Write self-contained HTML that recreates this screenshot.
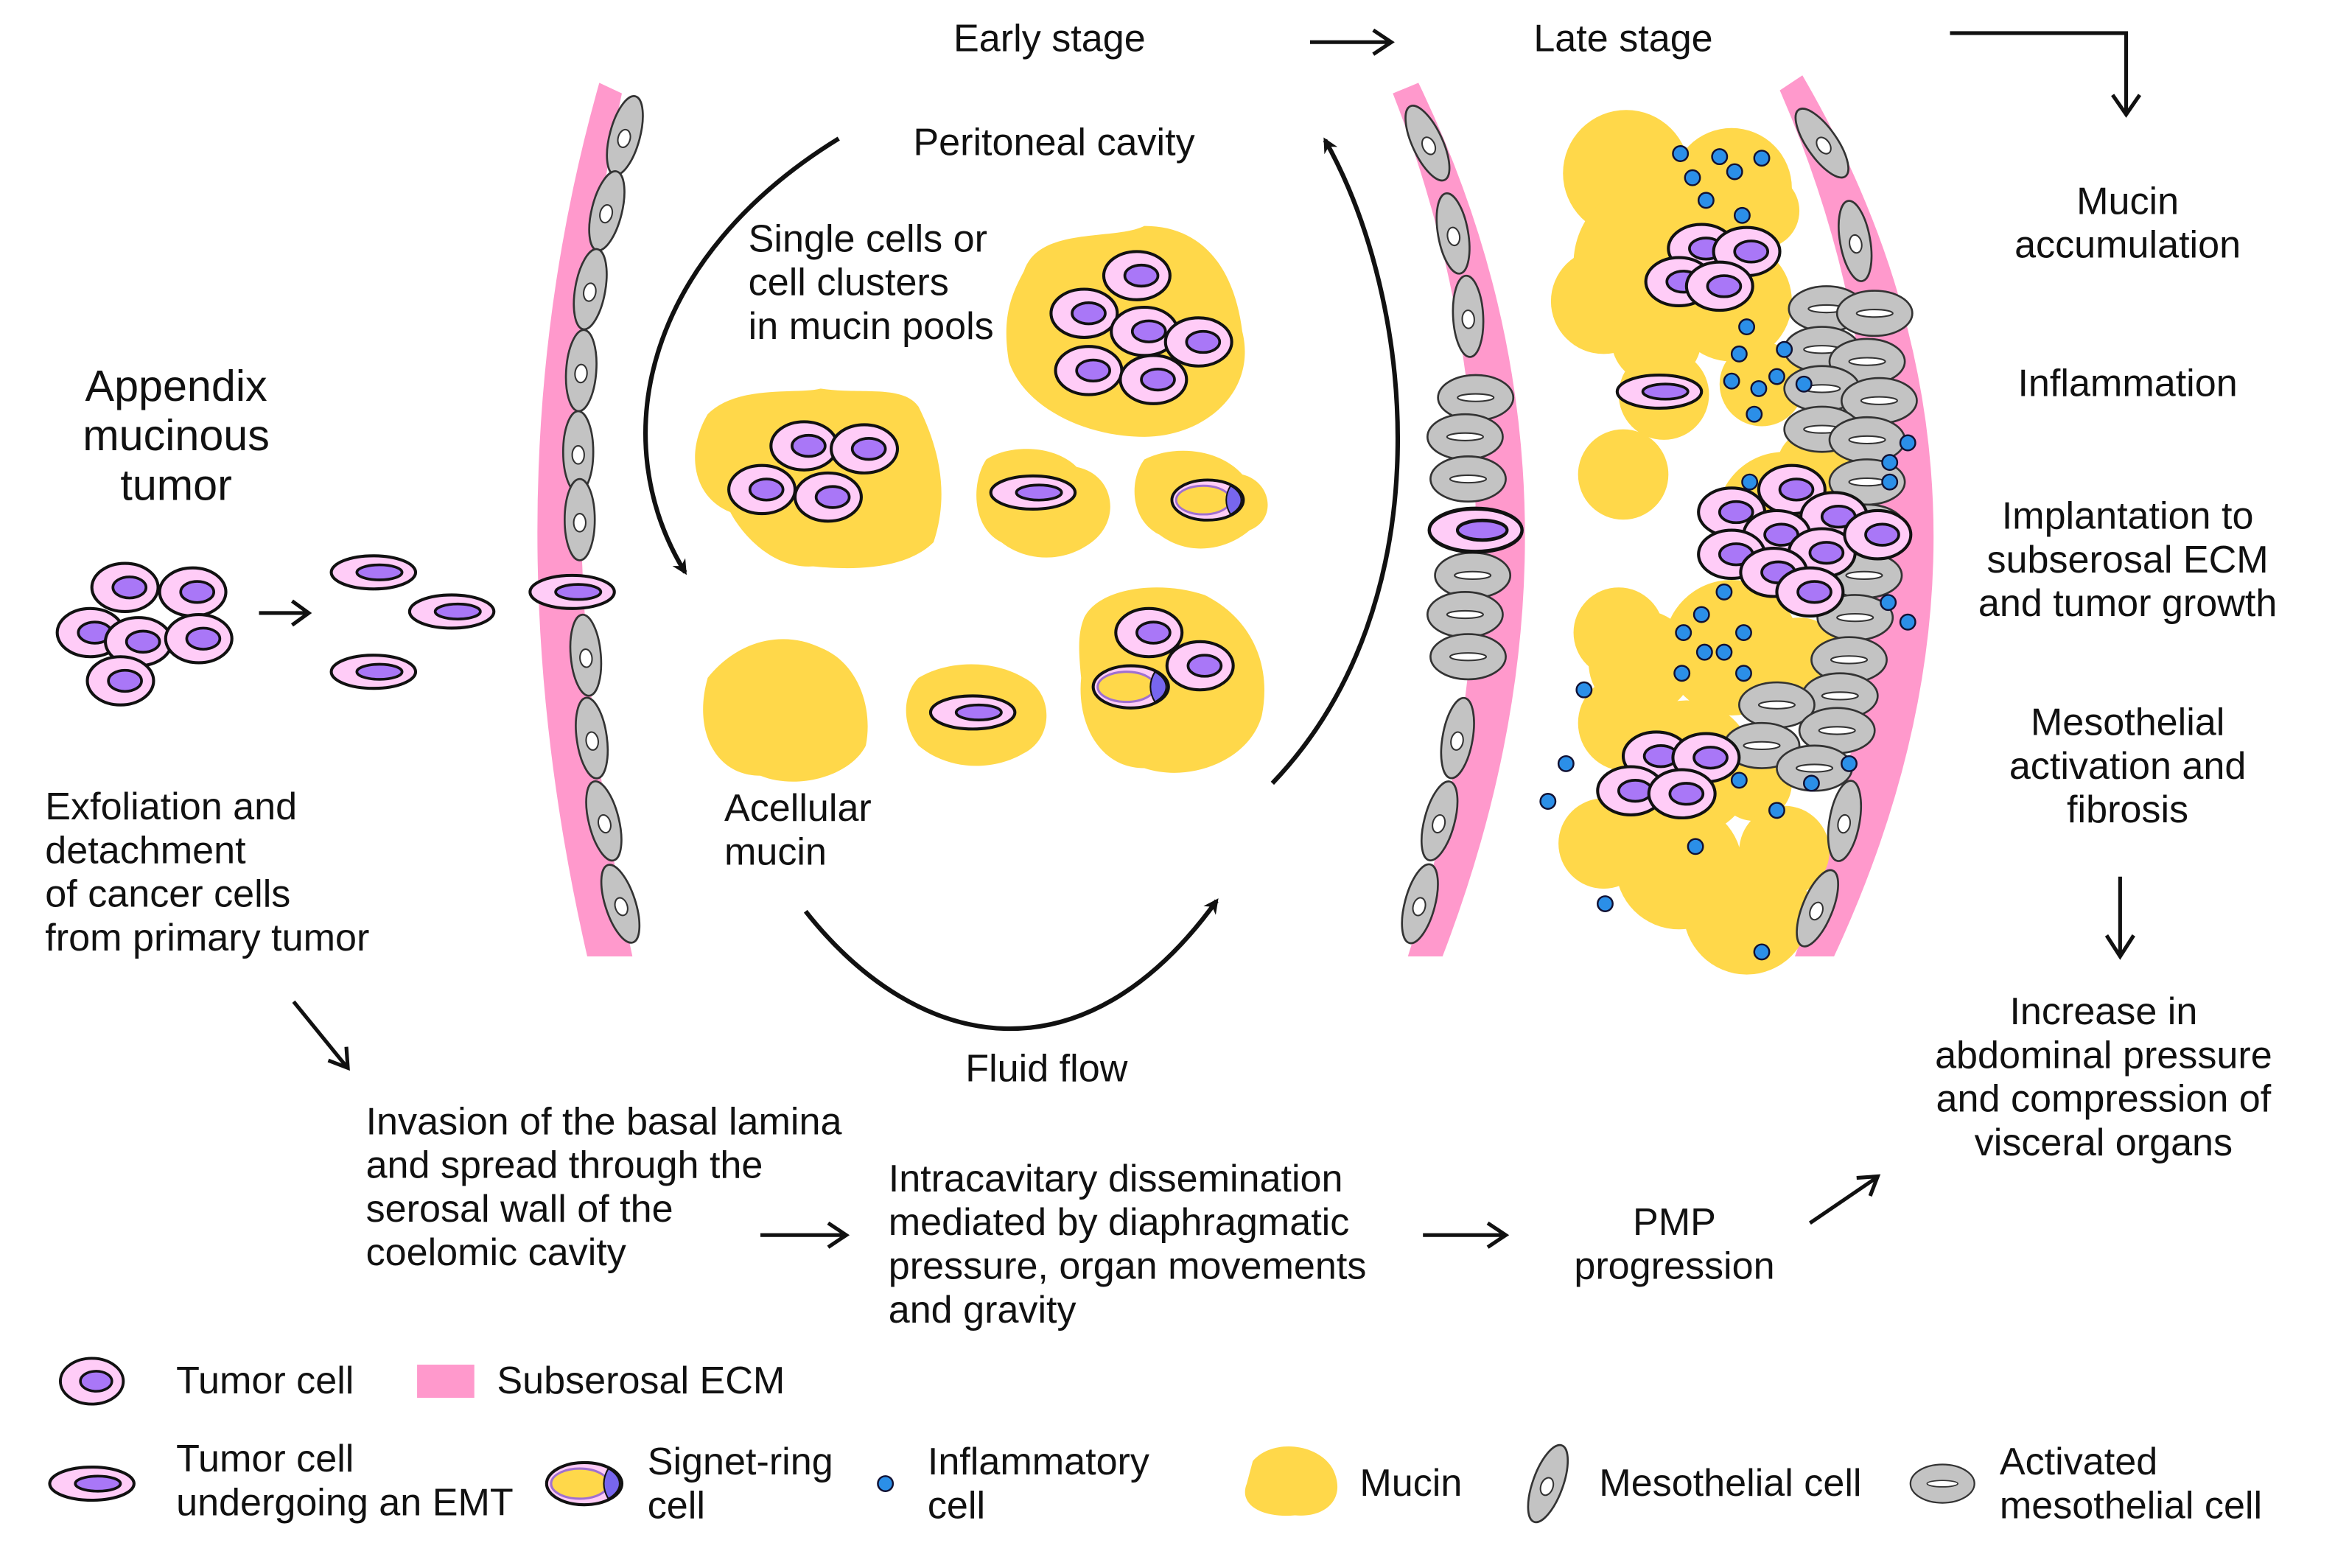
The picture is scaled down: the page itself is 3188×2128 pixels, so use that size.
<!DOCTYPE html>
<html><head><meta charset="utf-8"><style>
html,body{margin:0;padding:0;background:#fff}
svg{display:block}
text{font-family:"Liberation Sans",sans-serif;font-size:25.5px;fill:#111}
</style></head><body>
<svg width="3188" height="2128" viewBox="0 0 1560 1041" preserveAspectRatio="none" xmlns="http://www.w3.org/2000/svg">
<defs>
<g id="tc"><ellipse rx="22" ry="16" fill="#ffccf7" stroke="#111" stroke-width="2"/><ellipse cx="3" rx="11" ry="7" fill="#a977f7" stroke="#111" stroke-width="1.8"/></g>
<g id="emt"><ellipse rx="28" ry="11" fill="#ffccf7" stroke="#111" stroke-width="2"/><ellipse cx="4" rx="15" ry="5" fill="#a977f7" stroke="#111" stroke-width="1.8"/></g>
<g id="sig"><ellipse rx="25" ry="14" fill="#ffccf7" stroke="#111" stroke-width="2"/><ellipse cx="-3" rx="19" ry="10" fill="#ffd84a" stroke="#a070d0" stroke-width="1.5"/><path d="M16,-10 A25,14 0 0 1 16,10 Q10,0 16,-10Z" fill="#7766ee" stroke="#111" stroke-width="1"/></g>
<g id="ms"><ellipse rx="10" ry="27" fill="#c3c3c3" stroke="#333" stroke-width="1.3"/><ellipse rx="4" ry="6" cy="2" fill="#fff" stroke="#333" stroke-width="1"/></g>
<g id="am"><ellipse rx="25" ry="15" fill="#c3c3c3" stroke="#333" stroke-width="1.3"/><ellipse rx="12" ry="2.5" fill="#fff" stroke="#333" stroke-width="1"/></g>
<marker id="ah" markerWidth="10" markerHeight="10" refX="8" refY="5" orient="auto" markerUnits="userSpaceOnUse" viewBox="0 0 10 10"><path d="M0,0 L10,5 L0,10 L3,5Z" fill="#111"/></marker>
</defs>

<text x="697" y="34" text-anchor="middle">Early stage</text>
<text x="1078" y="34" text-anchor="middle">Late stage</text>
<path d="M870,28 H922 M912,20 L924,28 L912,36" fill="none" stroke="#111" stroke-width="2.5"/>
<path d="M1295,22 H1412 V75 M1403,63 L1412,76 L1421,63" fill="none" stroke="#111" stroke-width="2.5"/>
<text x="700" y="103" text-anchor="middle">Peritoneal cavity</text>

<path d="M398,55 Q320,330 390,635 L420,635 Q355,330 413,62 Z" fill="#ff99cc"/>
<path d="M942,55 Q1075,330 958,635 L935,635 Q1030,330 925,62 Z" fill="#ff99cc"/>
<path d="M1197,50 Q1360,330 1218,635 L1192,635 Q1300,330 1182,60 Z" fill="#ff99cc"/>

<g>
<use href="#ms" transform="translate(415,90) rotate(15)"/>
<use href="#ms" transform="translate(403,140) rotate(14)"/>
<use href="#ms" transform="translate(392,192) rotate(10)"/>
<use href="#ms" transform="translate(386,246) rotate(4)"/>
<use href="#ms" transform="translate(384,300)"/>
<use href="#ms" transform="translate(385,345)"/>
<use href="#ms" transform="translate(389,435) rotate(-5)"/>
<use href="#ms" transform="translate(393,490) rotate(-8)"/>
<use href="#ms" transform="translate(401,545) rotate(-14)"/>
<use href="#ms" transform="translate(412,600) rotate(-18)"/>
</g>
<use href="#emt" x="380" y="393"/>

<use href="#ms" transform="translate(948,95) rotate(-25)"/>
<use href="#ms" transform="translate(965,155) rotate(-10)"/>
<use href="#ms" transform="translate(975,210) rotate(-3)"/>
<use href="#am" x="980" y="264"/>
<use href="#am" x="973" y="290"/>
<use href="#am" x="975" y="318"/>
<use href="#am" x="978" y="382"/>
<use href="#am" x="973" y="408"/>
<use href="#am" x="975" y="436"/>
<use href="#ms" transform="translate(968,490) rotate(10)"/>
<use href="#ms" transform="translate(956,545) rotate(15)"/>
<use href="#ms" transform="translate(943,600) rotate(15)"/>
<use href="#emt" transform="translate(980,352) scale(1.1,1.3)"/>

<text x="117" y="266" text-anchor="middle" style="font-size:29px">Appendix</text>
<text x="117" y="299" text-anchor="middle" style="font-size:29px">mucinous</text>
<text x="117" y="332" text-anchor="middle" style="font-size:29px">tumor</text>
<use href="#tc" x="83" y="390"/><use href="#tc" x="128" y="393"/>
<use href="#tc" x="60" y="420"/><use href="#tc" x="92" y="426"/><use href="#tc" x="132" y="424"/>
<use href="#tc" x="80" y="452"/>
<path d="M172,407 H203 M194,399 L205,407 L194,415" fill="none" stroke="#111" stroke-width="2.5"/>
<use href="#emt" x="248" y="380"/><use href="#emt" x="300" y="406"/><use href="#emt" x="248" y="446"/>

<path d="M557,92 C430,170 400,290 455,380" fill="none" stroke="#111" stroke-width="3" marker-end="url(#ah)"/>
<path d="M535,605 C610,700 720,720 808,598" fill="none" stroke="#111" stroke-width="3" marker-end="url(#ah)"/>
<path d="M845,520 C960,400 940,200 880,93" fill="none" stroke="#111" stroke-width="3" marker-end="url(#ah)"/>

<g fill="#ffd84a">
<path d="M680,180 C690,150 740,160 760,150 C800,150 820,180 825,220 C835,260 800,290 760,290 C720,290 680,270 670,240 C665,210 672,195 680,180Z"/>
<path d="M470,275 C490,255 530,262 545,258 C570,262 600,255 610,270 C625,300 630,330 620,360 C600,380 560,378 540,376 C510,378 490,350 485,340 C460,330 455,300 470,275Z"/>
<path d="M655,305 C670,295 700,295 715,310 C740,315 745,345 725,360 C705,375 680,372 665,360 C645,350 645,320 655,305Z"/>
<path d="M760,305 C780,295 810,298 825,315 C845,320 848,345 830,352 C815,365 790,370 770,355 C750,345 750,318 760,305Z"/>
<path d="M470,450 C490,425 520,418 545,430 C570,440 580,470 575,495 C565,515 530,525 505,515 C475,515 460,485 470,450Z"/>
<path d="M610,450 C630,438 660,438 680,450 C700,460 700,490 680,500 C660,512 630,512 610,495 C598,480 600,460 610,450Z"/>
<path d="M720,410 C730,390 770,385 800,395 C830,410 845,440 838,475 C830,505 790,520 760,510 C730,510 715,480 718,450 C716,430 716,420 720,410Z"/>
</g>
<use href="#tc" x="755" y="183"/><use href="#tc" x="720" y="208"/><use href="#tc" x="760" y="220"/><use href="#tc" x="796" y="227"/><use href="#tc" x="723" y="246"/><use href="#tc" x="766" y="252"/>
<use href="#tc" x="534" y="296"/><use href="#tc" x="574" y="298"/><use href="#tc" x="506" y="325"/><use href="#tc" x="550" y="330"/>
<use href="#emt" x="686" y="327"/>
<use href="#sig" transform="translate(802,332) scale(0.95)"/>
<use href="#emt" x="646" y="473"/>
<use href="#tc" x="763" y="420"/><use href="#tc" x="797" y="442"/>
<use href="#sig" x="751" y="456"/>

<text x="497" y="167">Single cells or</text>
<text x="497" y="196">cell clusters</text>
<text x="497" y="225">in mucin pools</text>
<text x="481" y="545">Acellular</text>
<text x="481" y="574">mucin</text>
<text x="695" y="718" text-anchor="middle">Fluid flow</text>

<g fill="#ffd84a">
<circle cx="1080" cy="115" r="42"/><circle cx="1150" cy="125" r="40"/><circle cx="1170" cy="140" r="25"/>
<circle cx="1100" cy="175" r="55"/><circle cx="1065" cy="200" r="35"/><circle cx="1150" cy="200" r="40"/>
<circle cx="1100" cy="225" r="30"/><circle cx="1105" cy="262" r="30"/><circle cx="1170" cy="255" r="28"/>
<circle cx="1078" cy="315" r="30"/>
<circle cx="1185" cy="345" r="45"/><circle cx="1205" cy="310" r="25"/>
<circle cx="1075" cy="420" r="30"/><circle cx="1090" cy="440" r="35"/><circle cx="1150" cy="430" r="45"/><circle cx="1195" cy="440" r="30"/>
<circle cx="1080" cy="480" r="32"/><circle cx="1120" cy="510" r="45"/><circle cx="1165" cy="520" r="25"/>
<circle cx="1065" cy="560" r="30"/><circle cx="1115" cy="575" r="42"/><circle cx="1160" cy="605" r="42"/><circle cx="1185" cy="565" r="30"/>
</g>
<use href="#ms" transform="translate(1210,95) rotate(-35)"/>
<use href="#ms" transform="translate(1232,160) rotate(-10)"/>
<g>
<use href="#am" x="1213" y="205"/><use href="#am" x="1245" y="208"/>
<use href="#am" x="1210" y="232"/><use href="#am" x="1240" y="240"/>
<use href="#am" x="1210" y="258"/><use href="#am" x="1248" y="266"/>
<use href="#am" x="1210" y="285"/><use href="#am" x="1240" y="292"/>
<use href="#am" x="1240" y="320"/><use href="#am" x="1240" y="350"/>
<use href="#am" x="1238" y="382"/><use href="#am" x="1232" y="410"/>
<use href="#am" x="1228" y="438"/><use href="#am" x="1222" y="462"/>
<use href="#am" x="1180" y="468"/><use href="#am" x="1220" y="485"/>
<use href="#am" x="1170" y="495"/><use href="#am" x="1205" y="510"/>
</g>
<use href="#ms" transform="translate(1225,545) rotate(10)"/>
<use href="#ms" transform="translate(1207,603) rotate(22)"/>

<use href="#tc" x="1130" y="165"/><use href="#tc" x="1160" y="167"/><use href="#tc" x="1115" y="187"/><use href="#tc" x="1142" y="190"/>
<use href="#emt" x="1102" y="260"/>
<use href="#tc" x="1190" y="325"/><use href="#tc" x="1150" y="340"/><use href="#tc" x="1218" y="343"/>
<use href="#tc" x="1180" y="355"/><use href="#tc" x="1210" y="367"/><use href="#tc" x="1247" y="355"/>
<use href="#tc" x="1150" y="368"/><use href="#tc" x="1178" y="380"/><use href="#tc" x="1202" y="393"/>
<use href="#tc" x="1100" y="502"/><use href="#tc" x="1133" y="503"/><use href="#tc" x="1083" y="525"/><use href="#tc" x="1117" y="527"/>

<g fill="#2b8fe8" stroke="#113" stroke-width="1.2">
<circle cx="1116" cy="102" r="5"/><circle cx="1142" cy="104" r="5"/><circle cx="1170" cy="105" r="5"/><circle cx="1124" cy="118" r="5"/><circle cx="1152" cy="114" r="5"/><circle cx="1133" cy="133" r="5"/><circle cx="1157" cy="143" r="5"/>
<circle cx="1160" cy="217" r="5"/><circle cx="1155" cy="235" r="5"/><circle cx="1185" cy="232" r="5"/><circle cx="1150" cy="253" r="5"/><circle cx="1168" cy="258" r="5"/><circle cx="1180" cy="250" r="5"/><circle cx="1198" cy="255" r="5"/><circle cx="1165" cy="275" r="5"/>
<circle cx="1267" cy="294" r="5"/><circle cx="1255" cy="307" r="5"/><circle cx="1255" cy="320" r="5"/><circle cx="1162" cy="320" r="5"/><circle cx="1254" cy="400" r="5"/><circle cx="1267" cy="413" r="5"/>
<circle cx="1145" cy="393" r="5"/><circle cx="1130" cy="408" r="5"/><circle cx="1118" cy="420" r="5"/><circle cx="1132" cy="433" r="5"/><circle cx="1145" cy="433" r="5"/><circle cx="1158" cy="420" r="5"/><circle cx="1158" cy="447" r="5"/><circle cx="1117" cy="447" r="5"/>
<circle cx="1052" cy="458" r="5"/><circle cx="1040" cy="507" r="5"/><circle cx="1028" cy="532" r="5"/><circle cx="1155" cy="518" r="5"/><circle cx="1180" cy="538" r="5"/><circle cx="1203" cy="520" r="5"/><circle cx="1228" cy="507" r="5"/>
<circle cx="1126" cy="562" r="5"/><circle cx="1066" cy="600" r="5"/><circle cx="1170" cy="632" r="5"/>
</g>

<g text-anchor="middle">
<text x="1413" y="142">Mucin</text><text x="1413" y="171">accumulation</text>
<text x="1413" y="263">Inflammation</text>
<text x="1413" y="351">Implantation to</text><text x="1413" y="380">subserosal ECM</text><text x="1413" y="409">and tumor growth</text>
<text x="1413" y="488">Mesothelial</text><text x="1413" y="517">activation and</text><text x="1413" y="546">fibrosis</text>
<text x="1397" y="680">Increase in</text><text x="1397" y="709">abdominal pressure</text><text x="1397" y="738">and compression of</text><text x="1397" y="767">visceral organs</text>
<text x="1112" y="820">PMP</text><text x="1112" y="849">progression</text>
</g>
<path d="M1408,582 V633 M1399,621 L1408,635 L1417,621" fill="none" stroke="#111" stroke-width="2.5"/>

<text x="30" y="544">Exfoliation and</text><text x="30" y="573">detachment</text><text x="30" y="602">of cancer cells</text><text x="30" y="631">from primary tumor</text>
<path d="M195,665 L230,708 M218,704 L231,709 L230,695" fill="none" stroke="#111" stroke-width="2.5"/>
<text x="243" y="753">Invasion of the basal lamina</text><text x="243" y="782">and spread through the</text><text x="243" y="811">serosal wall of the</text><text x="243" y="840">coelomic cavity</text>
<path d="M505,820 H560 M550,812 L562,820 L550,828" fill="none" stroke="#111" stroke-width="2.5"/>
<text x="590" y="791">Intracavitary dissemination</text><text x="590" y="820">mediated by diaphragmatic</text><text x="590" y="849">pressure, organ movements</text><text x="590" y="878">and gravity</text>
<path d="M945,820 H998 M988,812 L1000,820 L988,828" fill="none" stroke="#111" stroke-width="2.5"/>
<path d="M1202,812 L1246,782 M1233,782 L1247,781 L1242,794" fill="none" stroke="#111" stroke-width="2.5"/>

<use href="#tc" transform="translate(61,917) scale(0.95)"/>
<text x="117" y="925">Tumor cell</text>
<rect x="277" y="906" width="38" height="22" fill="#ff99cc"/>
<text x="330" y="925">Subserosal ECM</text>
<use href="#emt" x="61" y="985"/>
<text x="117" y="977">Tumor cell</text><text x="117" y="1006">undergoing an EMT</text>
<use href="#sig" x="388" y="985"/>
<text x="430" y="979">Signet-ring</text><text x="430" y="1008">cell</text>
<circle cx="588" cy="985" r="5" fill="#2b8fe8" stroke="#113" stroke-width="1.2"/>
<text x="616" y="979">Inflammatory</text><text x="616" y="1008">cell</text>
<path d="M832,970 C845,955 875,958 885,975 C895,995 880,1008 860,1006 C840,1008 822,1000 828,985Z" fill="#ffd84a"/>
<text x="903" y="993">Mucin</text>
<use href="#ms" transform="translate(1028,985) rotate(20)"/>
<text x="1062" y="993">Mesothelial cell</text>
<use href="#am" transform="translate(1290,985) scale(0.85)"/>
<text x="1328" y="979">Activated</text><text x="1328" y="1008">mesothelial cell</text>
</svg>
</body></html>
